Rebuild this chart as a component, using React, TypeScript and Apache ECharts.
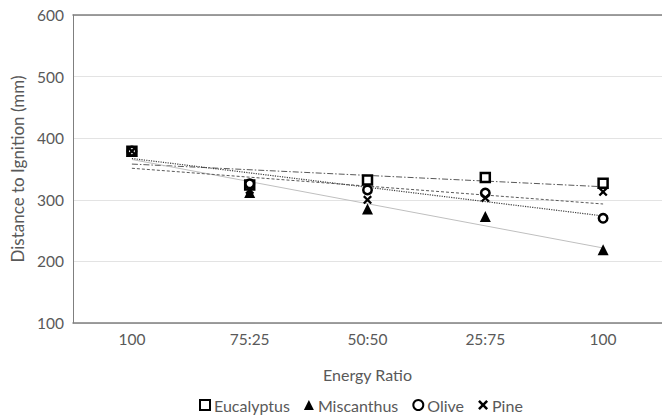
import React, { useEffect, useRef } from "react";
import * as echarts from "echarts";

const categories = ["100", "75:25", "50:50", "25:75", "100"];
const eucalyptus = [379, 324, 332, 336, 327];
const miscanthus = [379, 312, 285, 273, 219];
const olive = [379, 326, 316, 311, 270];
const pine = [379, 316, 300, 303, 313];
const yTicks = [100, 200, 300, 400, 500, 600];

const FONT = "Lato";
const TEXT = "#595959";
const X_PATH =
  "path://M0,1.8L1.8,0L5,3.2L8.2,0L10,1.8L6.8,5L10,8.2L8.2,10L5,6.8L1.8,10L0,8.2L3.2,5Z";

function trend(vals: number[]): (number | string)[] {
  const n = vals.length;
  const xs = vals.map((_, i) => i);
  const mx = xs.reduce((a, b) => a + b, 0) / n;
  const my = vals.reduce((a, b) => a + b, 0) / n;
  let num = 0;
  let den = 0;
  for (let i = 0; i < n; i++) {
    num += (xs[i] - mx) * (vals[i] - my);
    den += (xs[i] - mx) * (xs[i] - mx);
  }
  const slope = num / den;
  const b = my - slope * mx;
  return vals.map((_, i) => (i === 0 || i === n - 1 ? b + slope * i : "-"));
}

export default function App() {
  const ref = useRef<HTMLDivElement>(null);
  useEffect(() => {
    if (!ref.current) return;
    const chart = echarts.init(ref.current, undefined, { renderer: "svg" });
    const markerSeries = (
      name: string,
      data: number[],
      symbol: string,
      size: number,
      itemStyle: any
    ) => ({
      name,
      type: "line",
      data,
      symbol,
      symbolSize: size,
      lineStyle: { width: 0, opacity: 0 },
      itemStyle,
      z: 5,
    });
    const trendSeries = (name: string, data: number[], lineStyle: any) => ({
      name: name + " trend",
      type: "line",
      data: trend(data),
      connectNulls: true,
      showSymbol: false,
      symbol: "none",
      lineStyle,
      z: 3,
    });
    chart.setOption({
      animation: false,
      textStyle: { fontFamily: FONT },
      grid: { left: 73, right: 0, top: 15, bottom: 95, containLabel: false },
      xAxis: [
        {
          type: "category",
          data: categories,
          boundaryGap: true,
          axisLine: { lineStyle: { color: "#7f7f7f", width: 1.5 } },
          axisTick: { show: false },
          axisLabel: { color: TEXT, fontSize: 15.5, fontFamily: FONT, margin: 8 },
          name: "Energy Ratio",
          nameLocation: "middle",
          nameGap: 43,
          nameTextStyle: { color: TEXT, fontSize: 16, fontFamily: FONT },
        },
        {
          type: "category",
          data: categories,
          position: "top",
          axisLine: { show: true, lineStyle: { color: "#7f7f7f", width: 1.5 } },
          axisTick: { show: false },
          axisLabel: { show: false },
        },
      ],
      yAxis: {
        type: "value",
        min: yTicks[0],
        max: yTicks[yTicks.length - 1],
        interval: 100,
        axisLine: { show: true, lineStyle: { color: "#7f7f7f", width: 1 } },
        axisTick: { show: false },
        splitLine: { lineStyle: { color: "#e3e3e3", width: 1 } },
        axisLabel: { color: TEXT, fontSize: 15.5, fontFamily: FONT, margin: 9 },
        name: "Distance to Ignition (mm)",
        nameLocation: "middle",
        nameGap: 47,
        nameTextStyle: { color: TEXT, fontSize: 17, fontFamily: FONT },
      },
      legend: {
        data: [
          { name: "Eucalyptus", icon: "rect" },
          { name: "Miscanthus", icon: "triangle" },
          { name: "Olive", icon: "circle" },
          { name: "Pine", icon: X_PATH },
        ],
        left: 199,
        top: 396,
        padding: 0,
        itemWidth: 10,
        itemHeight: 10,
        itemGap: 14,
        textStyle: {
          color: TEXT,
          fontSize: 16,
          lineHeight: 18,
          fontFamily: FONT,
          padding: [0, 0, 0, -1],
        },
      },
      series: [
        trendSeries("Eucalyptus", eucalyptus, { color: "#595959", width: 1, type: [6, 2, 1.5, 2] }),
        trendSeries("Miscanthus", miscanthus, { color: "#bfbfbf", width: 1, type: "solid" }),
        trendSeries("Olive", olive, { color: "#404040", width: 1.2, type: [1.2, 1.2] }),
        trendSeries("Pine", pine, { color: "#595959", width: 1, type: [3, 2] }),
        markerSeries("Eucalyptus", eucalyptus, "rect", 9, {
          color: "#ffffff",
          borderColor: "#000000",
          borderWidth: 2.5,
        }),
        markerSeries("Miscanthus", miscanthus, "triangle", 11, { color: "#000000" }),
        markerSeries("Olive", olive, "circle", 8.5, {
          color: "#ffffff",
          borderColor: "#000000",
          borderWidth: 2.5,
        }),
        markerSeries("Pine", pine, X_PATH, 9, { color: "#000000" }),
      ],
    });
    return () => chart.dispose();
  }, []);
  return (
    <div
      ref={ref}
      style={{ position: "fixed", left: 0, top: 0, width: 662, height: 418, background: "#fff" }}
    />
  );
}
